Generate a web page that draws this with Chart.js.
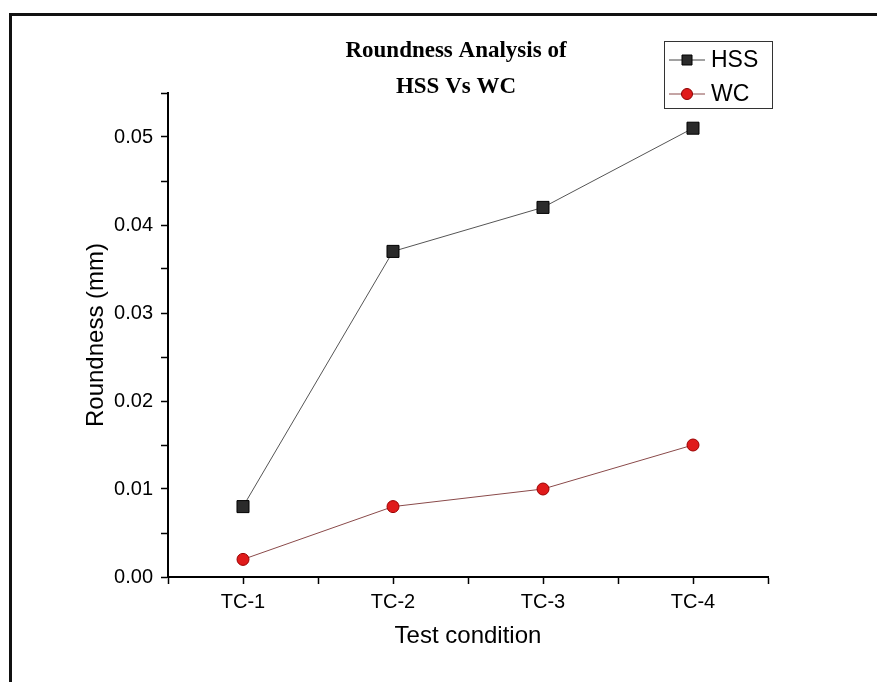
<!DOCTYPE html>
<html>
<head>
<meta charset="utf-8">
<script src="https://cdn.jsdelivr.net/npm/chart.js@4/dist/chart.umd.min.js"></script>
<style>
  html, body { margin: 0; padding: 0; background: #fff; }
  canvas { display: block; }
</style>
</head>
<body>
<canvas id="roundnessChart" width="877" height="682"></canvas>
<script>
// Data
const conditions = ['TC-1', 'TC-2', 'TC-3', 'TC-4'];
const hssValues = [0.008, 0.037, 0.042, 0.051];
const wcValues = [0.002, 0.008, 0.010, 0.015];
const titleLines = ['Roundness Analysis of', 'HSS Vs WC'];
const seriesNames = ['HSS', 'WC'];

// points on a numeric x axis (1..4) so minor ticks can sit between categories
function toPoints(values) {
    return values.map((v, i) => ({ x: i + 1, y: v }));
}

// Title, legend box and the outer frame of the figure
const decorations = {
    id: 'decorations',
    afterDraw(chart) {
        const ctx = chart.ctx;
        ctx.save();

        // outer frame (top and left edges only are visible)
        ctx.strokeStyle = '#111';
        ctx.lineWidth = 3;
        ctx.beginPath();
        ctx.moveTo(877, 14.5);
        ctx.lineTo(10.5, 14.5);
        ctx.lineTo(10.5, 682);
        ctx.stroke();

        // title
        ctx.fillStyle = '#000';
        ctx.font = 'bold 23px "Liberation Serif", "Times New Roman", serif';
        ctx.textAlign = 'center';
        ctx.textBaseline = 'middle';
        ctx.fillText(titleLines[0], 456, 51);
        ctx.fillText(titleLines[1], 456, 87);

        // legend
        ctx.strokeStyle = '#333';
        ctx.lineWidth = 1;
        ctx.strokeRect(664.5, 41.5, 108, 67);
        const rows = [
            { y: 60, line: '#444', style: 'rect', fill: '#2b2b2b', border: '#000' },
            { y: 94, line: '#8a4a4a', style: 'circle', fill: '#e01b1b', border: '#8b0000' }
        ];
        rows.forEach((row, i) => {
            ctx.strokeStyle = row.line;
            ctx.lineWidth = 1;
            ctx.beginPath();
            ctx.moveTo(669, row.y);
            ctx.lineTo(705, row.y);
            ctx.stroke();
            ctx.fillStyle = row.fill;
            ctx.strokeStyle = row.border;
            ctx.beginPath();
            if (row.style === 'rect') {
                ctx.rect(687 - 5, row.y - 5, 10, 10);
            } else {
                ctx.arc(687, row.y, 5.5, 0, Math.PI * 2);
            }
            ctx.fill();
            ctx.stroke();
            ctx.fillStyle = '#000';
            ctx.font = '23px "Liberation Sans", Arial, sans-serif';
            ctx.textAlign = 'left';
            ctx.fillText(seriesNames[i], 711, row.y + 1);
        });

        ctx.restore();
    }
};

const ctx = document.getElementById('roundnessChart').getContext('2d');
new Chart(ctx, {
    type: 'line',
    data: {
        datasets: [
            {
                label: seriesNames[0],
                data: toPoints(hssValues),
                borderColor: '#555',
                borderWidth: 1,
                pointStyle: 'rect',
                pointRadius: 8.5,
                pointBackgroundColor: '#2b2b2b',
                pointBorderColor: '#000',
                pointBorderWidth: 1,
                tension: 0
            },
            {
                label: seriesNames[1],
                data: toPoints(wcValues),
                borderColor: '#8a4a4a',
                borderWidth: 1,
                pointStyle: 'circle',
                pointRadius: 6,
                pointBackgroundColor: '#e01b1b',
                pointBorderColor: '#9b0000',
                pointBorderWidth: 1,
                tension: 0
            }
        ]
    },
    options: {
        responsive: false,
        animation: false,
        layout: {
            padding: { left: 20, right: 109, top: 93, bottom: 0 }
        },
        plugins: {
            legend: { display: false },
            title: { display: false },
            tooltip: { enabled: false }
        },
        scales: {
            x: {
                type: 'linear',
                min: 0.5,
                max: 4.5,
                afterFit: scale => { scale.height = 105; },
                border: { color: '#000', width: 2 },
                grid: {
                    drawOnChartArea: false,
                    drawTicks: true,
                    tickLength: 7,
                    tickColor: '#000',
                    tickWidth: 1.5
                },
                ticks: {
                    stepSize: 0.5,
                    autoSkip: false,
                    maxRotation: 0,
                    padding: 6,
                    color: '#000',
                    font: { family: '"Liberation Sans", Arial, sans-serif', size: 20 },
                    callback: v => Number.isInteger(v) ? conditions[v - 1] : ''
                },
                title: {
                    display: true,
                    text: 'Test condition',
                    color: '#000',
                    font: { family: '"Liberation Sans", Arial, sans-serif', size: 24 },
                    padding: { top: 0, bottom: 31 }
                }
            },
            y: {
                min: 0,
                max: 0.055,
                afterFit: scale => { scale.width = 148; },
                border: { color: '#000', width: 2 },
                grid: {
                    drawOnChartArea: false,
                    drawTicks: true,
                    tickLength: 7,
                    tickColor: '#000',
                    tickWidth: 1.5
                },
                ticks: {
                    stepSize: 0.005,
                    autoSkip: false,
                    padding: 8,
                    color: '#000',
                    font: { family: '"Liberation Sans", Arial, sans-serif', size: 20 },
                    callback: v => Math.round(v * 1000) % 10 === 0 ? v.toFixed(2) : ''
                },
                title: {
                    display: true,
                    text: 'Roundness (mm)',
                    color: '#000',
                    font: { family: '"Liberation Sans", Arial, sans-serif', size: 24 },
                    padding: { top: 62, bottom: 0 }
                }
            }
        }
    },
    plugins: [decorations]
});
</script>
</body>
</html>
